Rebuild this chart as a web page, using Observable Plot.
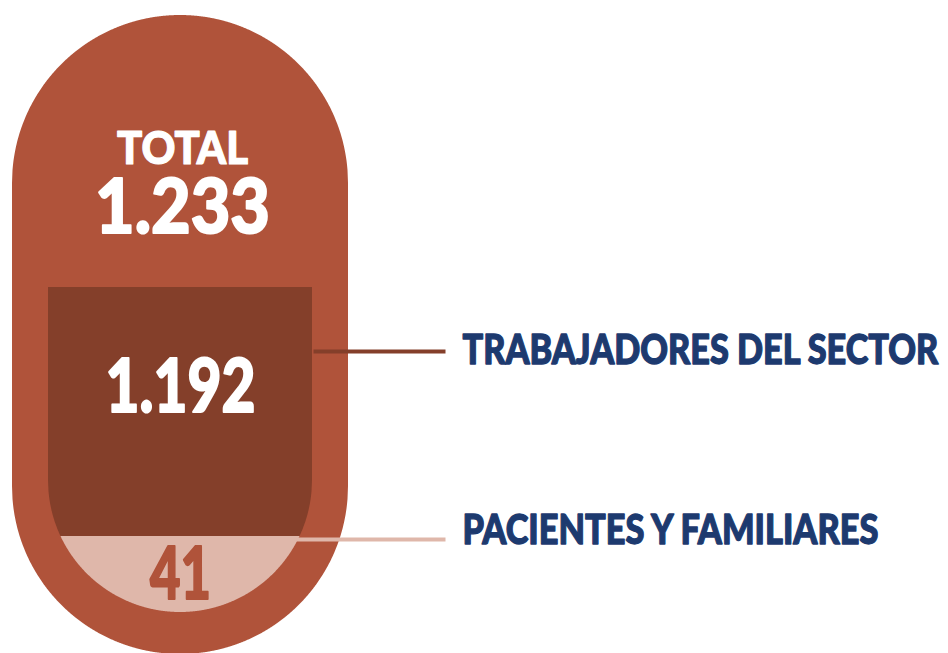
<!DOCTYPE html>
<html>
<head>
<meta charset="utf-8">
<script src="https://cdn.jsdelivr.net/npm/d3@7"></script>
<script src="https://cdn.jsdelivr.net/npm/@observablehq/plot@0.6"></script>
<style>
  html, body { margin: 0; padding: 0; background: #ffffff; }
  #chart { width: 948px; height: 653px; overflow: hidden; }
</style>
</head>
<body>
<div id="chart"></div>
<script>
// ---- data ----
const categories = ["TRABAJADORES DEL SECTOR", "PACIENTES Y FAMILIARES"];
const values = [1192, 41];
const totalLabel = "TOTAL";
const total = 1233;

// ---- styling / layout ----
const colors = { outer: "#B0533A", dark: "#843F2A", light: "#DFB7AA", navy: "#1D3A6F", white: "#FFFFFF" };
const W = 948, H = 653;
const cx = 180;
const outer = { r: 168, top: 15, bottom: 654 };
const inner = { r: 132, top: 287, bottom: 612, split: 536 };
const font = "Lato, 'Open Sans', sans-serif";

const es = d3.formatLocale({ decimal: ",", thousands: ".", grouping: [3], currency: ["", ""] });
const fmt = es.format(",d");

function halfChord(r, x) { const d = r * r - (x - cx) * (x - cx); return d > 0 ? Math.sqrt(d) : 0; }

const outerPts = d3.range(cx - outer.r, cx + outer.r + 0.001, 0.5).map(x => ({
  x,
  y1: outer.top + outer.r - halfChord(outer.r, x),
  y2: outer.bottom - outer.r + halfChord(outer.r, x)
}));
const innerCy = inner.bottom - inner.r;
const innerPts = d3.range(cx - inner.r, cx + inner.r + 0.001, 0.5).map(x => ({ x, b: innerCy + halfChord(inner.r, x) }));
const darkPts = innerPts.map(p => ({ x: p.x, y1: inner.top, y2: Math.min(inner.split, p.b) }));
const lightPts = innerPts.filter(p => p.b > inner.split).map(p => ({ x: p.x, y1: inner.split, y2: p.b }));

const labelData = categories.map((c, i) => ({ name: c, value: values[i] }));
const leaderY = [351, 539];
const leaderX1 = [313, 290];
const leaderX2 = 445;
const labelX = 462;
const labelBase = [363, 543];
const valueBase = [411, 598];
const valueFill = [colors.white, colors.outer];
const leaderColor = [colors.dark, colors.light];

const chart = Plot.plot({
  width: W, height: H, margin: 0,
  x: { domain: [0, W], axis: null },
  y: { domain: [0, H], reverse: true, axis: null },
  style: { background: "transparent" },
  marks: [
    Plot.areaY(outerPts, { x: "x", y1: "y1", y2: "y2", fill: colors.outer }),
    Plot.areaY(darkPts, { x: "x", y1: "y1", y2: "y2", fill: colors.dark }),
    Plot.areaY(lightPts, { x: "x", y1: "y1", y2: "y2", fill: colors.light }),
    Plot.link(labelData, {
      x1: (d, i) => leaderX1[i], x2: leaderX2,
      y1: (d, i) => leaderY[i], y2: (d, i) => leaderY[i],
      stroke: (d, i) => leaderColor[i], strokeWidth: 4
    }),
    Plot.text([totalLabel], { x: cx + 2, y: 163, text: d => d, fill: colors.white, stroke: colors.white, strokeWidth: 1.2, fontSize: 45, fontWeight: 900, fontFamily: font, textAnchor: "middle", lineAnchor: "bottom" }),
    Plot.text([total], { x: cx + 2, y: 232, text: d => fmt(d), fill: colors.white, stroke: colors.white, strokeWidth: 2, fontSize: 77, fontWeight: 900, fontFamily: font, textAnchor: "middle", lineAnchor: "bottom" }),
    Plot.text(labelData, { x: cx, y: (d, i) => valueBase[i], text: d => fmt(d.value), fill: (d, i) => valueFill[i], stroke: (d, i) => valueFill[i], strokeWidth: 2, fontSize: (d, i) => [75, 72][i], fontWeight: 900, fontFamily: font, textAnchor: "middle", lineAnchor: "bottom" }),
    Plot.text(labelData, { x: labelX, y: (d, i) => labelBase[i], text: "name", fill: colors.navy, stroke: colors.navy, strokeWidth: 1.3, fontSize: 41, fontWeight: 900, fontFamily: font, textAnchor: "start", lineAnchor: "bottom" })
  ]
});

document.getElementById("chart").appendChild(chart);

// horizontal fit of the condensed display typeface (scale glyphs around their anchor)
const fitWidth = { "TOTAL": 131, "1.233": 175, "1.192": 150, "41": 61, "TRABAJADORES DEL SECTOR": 476, "PACIENTES Y FAMILIARES": 416 };
d3.select(chart).selectAll("text").each(function () {
  const t = this.textContent;
  if (!fitWidth[t]) return;
  const natural = this.getComputedTextLength();
  if (!natural) return;
  const s = fitWidth[t] / natural;
  const ax = +(this.getAttribute("x") || 0), ay = +(this.getAttribute("y") || 0);
  const prev = this.getAttribute("transform") || "";
  this.setAttribute("transform", `${prev} translate(${ax},${ay}) scale(${s},1) translate(${-ax},${-ay})`.trim());
});
</script>
</body>
</html>
